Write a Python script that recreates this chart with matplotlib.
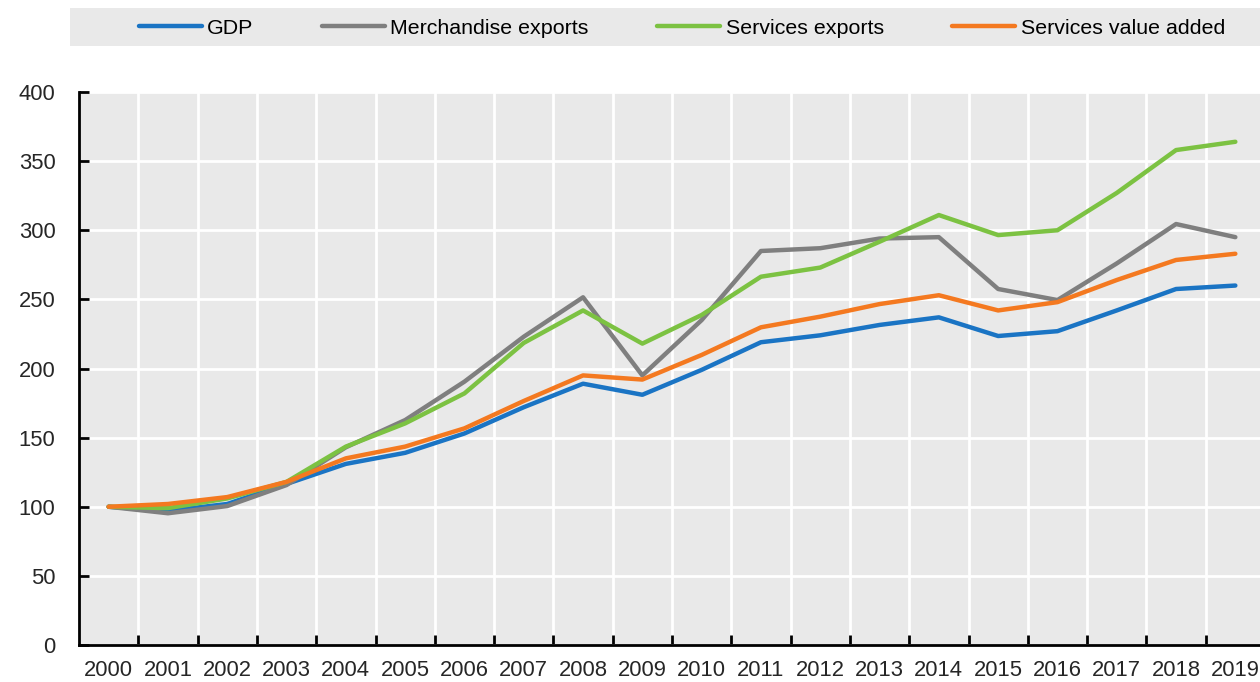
import matplotlib
matplotlib.use("Agg")
import matplotlib.pyplot as plt
from matplotlib.patches import Rectangle

plt.rcParams['font.family'] = ['Liberation Sans Narrow', 'Liberation Sans', 'DejaVu Sans']

years = [str(y) for y in range(2000, 2020)]
gdp = [100, 97, 102, 116.5, 131, 139, 153, 172, 189, 181, 199, 219, 224, 231.5, 237, 223.5, 227, 242, 257.5, 260]
merch = [100, 95.3, 100.5, 115.7, 143, 162.7, 190.5, 223, 251.5, 195, 235, 285, 287, 294, 295, 257.5, 249.5, 276, 304.5, 295]
serv_exp = [100, 99, 106, 118, 143.5, 160.3, 182, 218.5, 242, 218, 238.7, 266.4, 273, 291.7, 311, 296.5, 300, 327, 358, 364]
serv_va = [100, 102, 107, 118, 135, 143.5, 156.7, 176.5, 195, 192, 209.8, 229.8, 237.5, 246.6, 253, 242, 248, 264, 278.5, 283]

series = [
    ("GDP", gdp, "#1a74c4"),
    ("Merchandise exports", merch, "#7f7f7f"),
    ("Services exports", serv_exp, "#7cc242"),
    ("Services value added", serv_va, "#f47920"),
]
yticks = [0, 50, 100, 150, 200, 250, 300, 350, 400]

fig = plt.figure(figsize=(12.6, 6.82), dpi=100)
ax = fig.add_axes([79 / 1260, 1 - 645 / 682, (1265 - 79) / 1260, (645 - 92) / 682])
ax.set_facecolor("#e9e9e9")

x = list(range(len(years)))
for name, vals, col in series:
    ax.plot(x, vals, color=col, lw=3.2, label=name, solid_capstyle="round")

ax.set_xlim(-0.5, len(years) - 0.5)
ax.set_ylim(0, 400)

# category bands: boundaries carry ticks + grid, labels sit in the middle
ax.set_xticks([i + 0.5 for i in range(len(years) - 1)])
ax.set_xticklabels([])
ax.set_xticks(x, minor=True)
ax.set_xticklabels(years, minor=True)
ax.tick_params(axis="x", which="major", direction="in", length=7, width=2, color="black")
ax.tick_params(axis="x", which="minor", length=0, pad=11, labelsize=15.8, labelcolor="#262626")

ax.set_yticks(yticks)
ax.set_yticklabels([str(t) for t in yticks])
ax.tick_params(axis="y", direction="in", length=7, width=2, pad=17, labelsize=15.8, labelcolor="#262626")

ax.grid(True, which="major", color="white", lw=2)
ax.set_axisbelow(True)
for s in ["top", "right"]:
    ax.spines[s].set_visible(False)
for s in ["left", "bottom"]:
    ax.spines[s].set_linewidth(2)

# legend strip
fig.patches.append(Rectangle((70 / 1260, 1 - 46 / 682), 1200 / 1260, 38 / 682,
                             transform=fig.transFigure, facecolor="#e9e9e9", edgecolor="none", zorder=0))
handles, labels = ax.get_legend_handles_labels()
fig.legend(handles, labels, ncol=4, frameon=False, loc="center left",
           bbox_to_anchor=(130 / 1260, 1 - 28 / 682), fontsize=15.4,
           handlelength=2.95, handletextpad=0.25, columnspacing=3.2, borderaxespad=0)

fig.savefig("out.png", dpi=100)
